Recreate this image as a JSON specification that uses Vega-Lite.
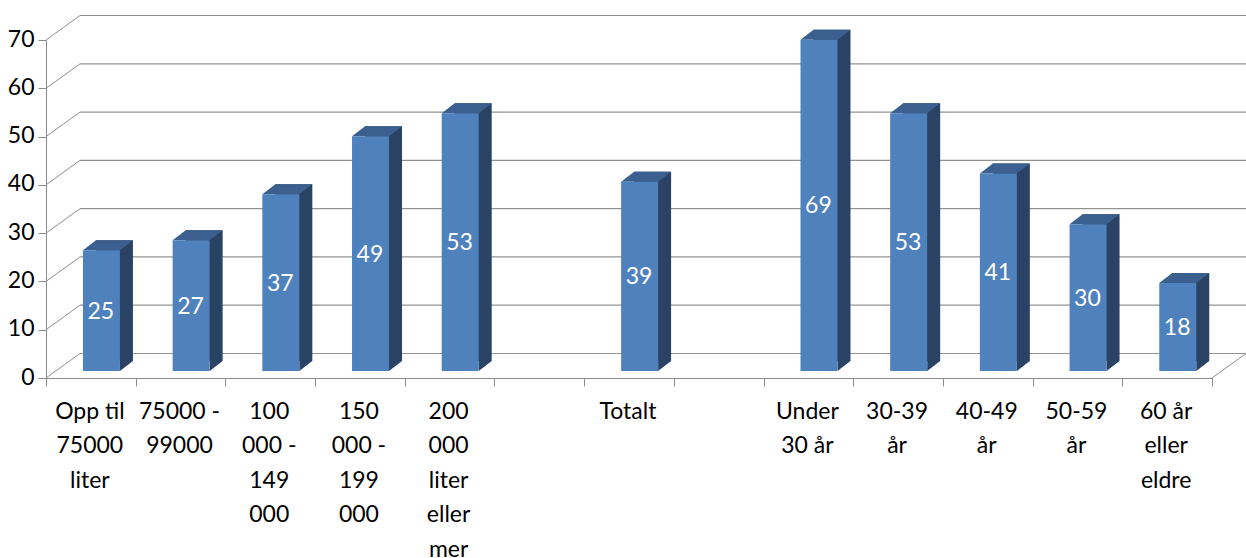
{
"$schema":"https://vega.github.io/schema/vega-lite/v6.json",
"width":1166,"height":338,
"autosize":{"type":"none"},
"padding":{"left":46,"top":40,"right":34,"bottom":180},
"background":"white",
"config":{"view":{"stroke":null},"font":"Lato"},
"data":{"values":[
{"gruppe":"Opp til\n75000\nliter","prosent":25.0},
{"gruppe":"75000 -\n99000","prosent":27.1},
{"gruppe":"100\n000 -\n149\n000","prosent":36.6},
{"gruppe":"150\n000 -\n199\n000","prosent":48.6},
{"gruppe":"200\n000\nliter\neller\nmer","prosent":53.4},
{"gruppe":"Totalt","prosent":39.2},
{"gruppe":"Under\n30 år","prosent":68.6},
{"gruppe":"30-39\når","prosent":53.4},
{"gruppe":"40-49\når","prosent":40.9},
{"gruppe":"50-59\når","prosent":30.4},
{"gruppe":"60 år\neller\neldre","prosent":18.2}
]},
"encoding":{
"x":{"field":"gruppe","type":"nominal","sort":null,
"scale":{"domain":["Opp til\n75000\nliter","75000 -\n99000","100\n000 -\n149\n000","150\n000 -\n199\n000","200\n000\nliter\neller\nmer"," ","Totalt","  ","Under\n30 år","30-39\når","40-49\når","50-59\når","60 år\neller\neldre"],"paddingInner":0,"paddingOuter":0},
"axis":{"title":null,"labelAngle":0,"labelFont":"Lato","labelFontSize":23,"labelColor":"#000000","labelLineHeight":34.6,"labelPadding":14,"labelOffset":-1.5,"labelBaseline":"top","labelAlign":"center","labelOverlap":false,"labelLimit":0,"labelExpr":"split(datum.label,'\\n')","tickBand":"extent","tickSize":8,"tickColor":"#8a8a8a","domainColor":"#8a8a8a","tickWidth":1,"domainWidth":1}}
},
"layer":[
{"data":{"values":[{"v":0},{"v":10},{"v":20},{"v":30},{"v":40},{"v":50},{"v":60},{"v":70}]},
 "mark":{"type":"rule","color":"#939393","strokeWidth":1.2,"xOffset":34,"x2Offset":34,"yOffset":-24.5},
 "encoding":{"x":{"datum":"Opp til\n75000\nliter","bandPosition":0},"x2":{"datum":"60 år\neller\neldre","bandPosition":1},"y":{"field":"v","type":"quantitative"}}},
{"data":{"values":[{"v":0},{"v":10},{"v":20},{"v":30},{"v":40},{"v":50},{"v":60},{"v":70}]},
 "mark":{"type":"point","shape":"M0 0L34 -24.5","size":4,"filled":false,"stroke":"#8f8f8f","strokeWidth":1,"opacity":1},
 "encoding":{"x":{"datum":"Opp til\n75000\nliter","bandPosition":0},"y":{"field":"v","type":"quantitative"}}},
{"data":{"values":[{"v":0}]},
 "mark":{"type":"point","shape":"M0 0L34 -24.5","size":4,"filled":false,"stroke":"#8f8f8f","strokeWidth":1,"opacity":1},
 "encoding":{"x":{"datum":"60 år\neller\neldre","bandPosition":1},"y":{"field":"v","type":"quantitative"}}},
{"mark":{"type":"bar","width":37,"color":"#2a4365","xOffset":23.6,"yOffset":-17,"y2Offset":-17},
 "encoding":{"y":{"field":"prosent","type":"quantitative","stack":null,"scale":{"domain":[0,70],"nice":false,"zero":true},
 "axis":{"title":null,"values":[0,10,20,30,40,50,60,70],"grid":false,"labelFont":"Lato","labelFontSize":23,"labelColor":"#000000","labelPadding":4,"labelOffset":-1,"tickSize":8,"tickColor":"#8a8a8a","domainColor":"#8a8a8a","tickWidth":1,"domainWidth":1}},"y2":{"datum":0}}},
{"mark":{"type":"point","shape":"M0 -10L13 -10L0 0Z","size":4,"filled":true,"color":"#2a4365","strokeWidth":0,"opacity":1,"xOffset":29.1,"yOffset":-7},
 "encoding":{"y":{"datum":0,"type":"quantitative"}}},
{"mark":{"type":"point","shape":"M-37 0L0 0L13 -10L-24 -10Z","size":4,"filled":true,"color":"#3b608f","strokeWidth":0,"opacity":1,"xOffset":29.1,"yOffset":-7},
 "encoding":{"y":{"field":"prosent","type":"quantitative"}}},
{"mark":{"type":"bar","width":37,"color":"#4f81bd","xOffset":10.6,"yOffset":-7,"y2Offset":-7},
 "encoding":{"y":{"field":"prosent","type":"quantitative","stack":null},"y2":{"datum":0}}},
{"mark":{"type":"text","color":"#ffffff","font":"Lato","fontSize":23,"align":"center","baseline":"middle","xOffset":10,"yOffset":-6},
 "encoding":{"y":{"field":"prosent","type":"quantitative","stack":"zero","bandPosition":0.5},"text":{"field":"prosent","type":"quantitative","format":".0f"}}}
]
}
